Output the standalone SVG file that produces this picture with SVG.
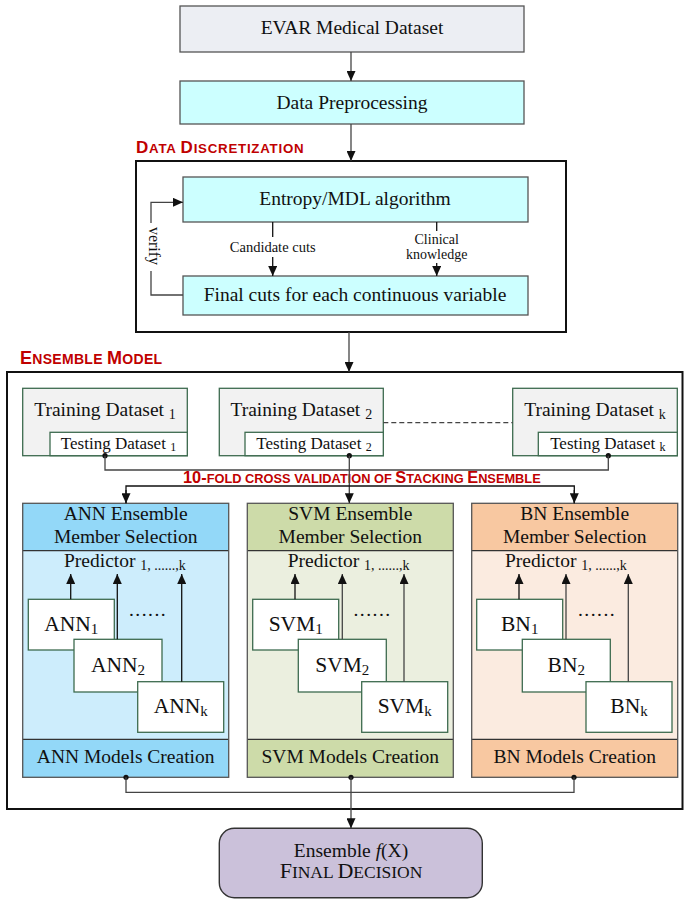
<svg xmlns="http://www.w3.org/2000/svg" width="685" height="899" viewBox="0 0 685 899">
<style>
.t{font-family:"Liberation Serif","Times New Roman",serif;fill:#111;text-anchor:middle}
.ts{font-family:"Liberation Serif","Times New Roman",serif;fill:#111;text-anchor:start;font-size:19.5px}
.m{font-size:19.5px}
.s{font-size:14.5px}
.red{font-family:"Liberation Sans",Arial,sans-serif;font-weight:bold;fill:#c00000}
.conn{stroke:#444;stroke-width:1.3;fill:none}
.blk{stroke:#111;stroke-width:1.3;fill:none}
.cyan{fill:#ccffff;stroke:#555;stroke-width:1.3}
.train{fill:#f2f2f2;stroke:#3d6b4f;stroke-width:1.3}
.test{fill:#ffffff;stroke:#3d6b4f;stroke-width:1.3}
.mb{fill:#ffffff;stroke:#3d6b4f;stroke-width:1.3}
.frame{fill:none;stroke:#111;stroke-width:2}
.col{fill:none;stroke:#555;stroke-width:1.3}
.div{stroke:#333;stroke-width:1.2}
</style>
<defs>
<marker id="ah" markerUnits="userSpaceOnUse" markerWidth="10" markerHeight="9" refX="10" refY="4.5" orient="auto">
<path d="M0,0 L10,4.5 L0,9 z" fill="#111"/>
</marker>
</defs>

<g id="evar">
<rect x="180" y="6" width="344" height="46" fill="#eceef3" stroke="#555" stroke-width="1.3"/>
<text class="t m" x="352" y="34">EVAR Medical Dataset</text>
</g>
<g id="preprocess">
<rect class="cyan" x="180" y="81" width="344" height="43"/>
<text class="t m" x="352" y="108.5">Data Preprocessing</text>
</g>

<g id="discretization">
<text class="red" x="136" y="153" letter-spacing="0.75"><tspan font-size="17">D</tspan><tspan font-size="13.3">ATA </tspan><tspan font-size="17">D</tspan><tspan font-size="13.3">ISCRETIZATION</tspan></text>
<rect class="frame" x="136" y="161" width="430" height="171"/>
</g>
<g id="entropy">
<rect class="cyan" x="183" y="177" width="345" height="45"/>
<text class="t m" x="355" y="205">Entropy/MDL algorithm</text>
</g>
<g id="finalcuts">
<rect class="cyan" x="183" y="276" width="345" height="39"/>
<text class="t m" x="355" y="301">Final cuts for each continuous variable</text>
</g>

<g id="ensemble-model">
<text class="red" x="20" y="364" letter-spacing="0.3"><tspan font-size="18">E</tspan><tspan font-size="14">NSEMBLE </tspan><tspan font-size="18">M</tspan><tspan font-size="14">ODEL</tspan></text>
<rect class="frame" x="7" y="372" width="675.5" height="437"/>
</g>

<g id="train1">
<rect class="train" x="22.7" y="388.3" width="164.6" height="67.4"/>
<text class="t m" x="105" y="416">Training Dataset <tspan font-size="14" dy="2.5">1</tspan></text>
</g>
<g id="test1">
<rect class="test" x="50" y="432.3" width="137.3" height="23.4"/>
<text class="t" font-size="17" x="118.5" y="449">Testing Dataset <tspan font-size="12" dy="1.5">1</tspan></text>
</g>
<g id="train2">
<rect class="train" x="219.3" y="388.3" width="164" height="67.4"/>
<text class="t m" x="301.3" y="416">Training Dataset <tspan font-size="14" dy="2.5">2</tspan></text>
</g>
<g id="test2">
<rect class="test" x="245" y="432.3" width="138.3" height="23.4"/>
<text class="t" font-size="17" x="314" y="449">Testing Dataset <tspan font-size="12" dy="1.5">2</tspan></text>
</g>
<g id="traink">
<rect class="train" x="512.7" y="388.3" width="164.6" height="67.4"/>
<text class="t m" x="595" y="416">Training Dataset <tspan font-size="14" dy="2.5">k</tspan></text>
</g>
<g id="testk">
<rect class="test" x="538.3" y="432.3" width="139" height="23.4"/>
<text class="t" font-size="17" x="607.8" y="449">Testing Dataset <tspan font-size="12" dy="1.5">k</tspan></text>
</g>

<text class="red" x="183" y="483.3"><tspan font-size="16.4">10-</tspan><tspan font-size="12.8">FOLD CROSS VALIDATION OF </tspan><tspan font-size="16.4">S</tspan><tspan font-size="12.8">TACKING </tspan><tspan font-size="16.4">E</tspan><tspan font-size="12.8">NSEMBLE</tspan></text>

<!-- ANN column -->
<g id="ann">
<rect x="22.7" y="503.3" width="206" height="47.4" fill="#93d8f8"/>
<rect x="22.7" y="550.7" width="206" height="188.6" fill="#cdedfc"/>
<rect x="22.7" y="739.3" width="206" height="38" fill="#93d8f8"/>
<line class="div" x1="22.7" y1="550.7" x2="228.7" y2="550.7"/>
<line class="div" x1="22.7" y1="739.3" x2="228.7" y2="739.3"/>
<rect class="col" x="22.7" y="503.3" width="206" height="274"/>
<text class="t m" x="125.7" y="520">ANN Ensemble</text>
<text class="t m" x="125.7" y="543.3">Member Selection</text>
<text class="ts" x="64" y="567.3">Predictor <tspan font-size="14" dy="3">1, ......,k</tspan></text>
<text class="t m" x="148" y="616" letter-spacing="1.5">......</text>
<text class="t m" x="125.7" y="763.3">ANN Models Creation</text>
</g>
<g id="ann1"><rect class="mb" x="28.3" y="599.3" width="86" height="50.7"/><text class="t" font-size="21.5" x="71.3" y="631">ANN<tspan font-size="15" dy="3">1</tspan></text></g>
<g id="ann2"><rect class="mb" x="74" y="639.3" width="88" height="52.7"/><text class="t" font-size="21.5" x="118" y="671.7">ANN<tspan font-size="15" dy="3">2</tspan></text></g>
<g id="annk"><rect class="mb" x="137.7" y="681.7" width="86" height="50.6"/><text class="t" font-size="21.5" x="180.7" y="713.3">ANN<tspan font-size="15" dy="3">k</tspan></text></g>

<!-- SVM column -->
<g id="svm">
<rect x="247.3" y="503.3" width="206" height="47.4" fill="#cddba9"/>
<rect x="247.3" y="550.7" width="206" height="188.6" fill="#ebefdf"/>
<rect x="247.3" y="739.3" width="206" height="38" fill="#cddba9"/>
<line class="div" x1="247.3" y1="550.7" x2="453.3" y2="550.7"/>
<line class="div" x1="247.3" y1="739.3" x2="453.3" y2="739.3"/>
<rect class="col" x="247.3" y="503.3" width="206" height="274"/>
<text class="t m" x="350.3" y="520">SVM Ensemble</text>
<text class="t m" x="350.3" y="543.3">Member Selection</text>
<text class="ts" x="287.7" y="567.3">Predictor <tspan font-size="14" dy="3">1, ......,k</tspan></text>
<text class="t m" x="372.6" y="616" letter-spacing="1.5">......</text>
<text class="t m" x="350.3" y="763.3">SVM Models Creation</text>
</g>
<g id="svm1"><rect class="mb" x="252.7" y="599.3" width="86" height="50.7"/><text class="t" font-size="21.5" x="295.7" y="631">SVM<tspan font-size="15" dy="3">1</tspan></text></g>
<g id="svm2"><rect class="mb" x="298.3" y="639.3" width="88" height="52.7"/><text class="t" font-size="21.5" x="342.3" y="671.7">SVM<tspan font-size="15" dy="3">2</tspan></text></g>
<g id="svmk"><rect class="mb" x="361.7" y="681.7" width="86" height="50.6"/><text class="t" font-size="21.5" x="404.7" y="713.3">SVM<tspan font-size="15" dy="3">k</tspan></text></g>

<!-- BN column -->
<g id="bn">
<rect x="471.7" y="503.3" width="206" height="47.4" fill="#f8c8a1"/>
<rect x="471.7" y="550.7" width="206" height="188.6" fill="#fbebe0"/>
<rect x="471.7" y="739.3" width="206" height="38" fill="#f8c8a1"/>
<line class="div" x1="471.7" y1="550.7" x2="677.7" y2="550.7"/>
<line class="div" x1="471.7" y1="739.3" x2="677.7" y2="739.3"/>
<rect class="col" x="471.7" y="503.3" width="206" height="274"/>
<text class="t m" x="574.7" y="520">BN Ensemble</text>
<text class="t m" x="574.7" y="543.3">Member Selection</text>
<text class="ts" x="505" y="567.3">Predictor <tspan font-size="14" dy="3">1, ......,k</tspan></text>
<text class="t m" x="597" y="616" letter-spacing="1.5">......</text>
<text class="t m" x="574.7" y="763.3">BN Models Creation</text>
</g>
<g id="bn1"><rect class="mb" x="476.7" y="599.3" width="86" height="50.7"/><text class="t" font-size="21.5" x="519.7" y="631">BN<tspan font-size="15" dy="3">1</tspan></text></g>
<g id="bn2"><rect class="mb" x="522.3" y="639.3" width="88" height="52.7"/><text class="t" font-size="21.5" x="566.3" y="671.7">BN<tspan font-size="15" dy="3">2</tspan></text></g>
<g id="bnk"><rect class="mb" x="586" y="681.7" width="86" height="50.6"/><text class="t" font-size="21.5" x="629" y="713.3">BN<tspan font-size="15" dy="3">k</tspan></text></g>

<g id="final">
<rect x="219.3" y="828.3" width="263" height="69.4" rx="15" fill="#cbc1da" stroke="#333" stroke-width="1.4"/>
<text class="t m" x="351" y="856.7">Ensemble <tspan font-style="italic">f</tspan>(X)</text>
<text class="t" x="351" y="878.3"><tspan font-size="22">F</tspan><tspan font-size="17.5">INAL </tspan><tspan font-size="22">D</tspan><tspan font-size="17.5">ECISION</tspan></text>
</g>

<g id="connectors">
<path class="conn" d="M351,52 V81" marker-end="url(#ah)"/>
<path class="conn" d="M351,124 V161" marker-end="url(#ah)"/>
<path class="blk" d="M272.7,222 V237"/>
<text class="t s" x="272.7" y="252">Candidate cuts</text>
<path class="blk" d="M272.7,257 V276" marker-end="url(#ah)"/>
<path class="blk" d="M436.7,222 V231"/>
<text class="t" font-size="14" x="436.7" y="243.5">Clinical</text>
<text class="t" font-size="14" x="436.7" y="258.5">knowledge</text>
<path class="blk" d="M436.7,263 V276" marker-end="url(#ah)"/>
<path class="conn" d="M183,295 H151 V271"/>
<path class="conn" d="M151,223 V202.3 H183" marker-end="url(#ah)"/>
<text class="t" font-size="16" transform="translate(148.5,246) rotate(90)">verify</text>
<path class="conn" d="M349,332 V372" marker-end="url(#ah)"/>
<path class="conn" d="M383.3,422.7 H512.7" stroke-dasharray="5,3"/>
<circle cx="105" cy="455.7" r="2.6" fill="#111"/>
<circle cx="349.3" cy="455.7" r="2.6" fill="#111"/>
<circle cx="608.3" cy="455.7" r="2.6" fill="#111"/>
<path class="conn" d="M105,455.7 V470 H608.3 V455.7"/>
<path class="conn" d="M349.3,455.7 V503.3" marker-end="url(#ah)"/>
<path class="blk" d="M126,503.3 V486 H574.3 V503.3"/>
<path class="blk" d="M126,490 V503.3" marker-end="url(#ah)"/>
<path class="blk" d="M574.3,490 V503.3" marker-end="url(#ah)"/>
<path class="blk" d="M70.7,599.3 V574" marker-end="url(#ah)"/>
<path class="blk" d="M117.3,639.3 V574" marker-end="url(#ah)"/>
<path class="blk" d="M181.7,681.7 V574" marker-end="url(#ah)"/>
<path class="blk" d="M295,599.3 V574" marker-end="url(#ah)"/>
<path class="conn" d="M342.3,639.3 V574" marker-end="url(#ah)"/>
<path class="conn" d="M404,681.7 V574" marker-end="url(#ah)"/>
<path class="blk" d="M519,599.3 V574" marker-end="url(#ah)"/>
<path class="conn" d="M566,639.3 V574" marker-end="url(#ah)"/>
<path class="conn" d="M628.3,681.7 V574" marker-end="url(#ah)"/>
<circle cx="126" cy="777.3" r="2.6" fill="#111"/>
<circle cx="351" cy="777.3" r="2.6" fill="#111"/>
<circle cx="574" cy="777.3" r="2.6" fill="#111"/>
<path class="conn" d="M126,777.3 V792.3 H574 V777.3"/>
<path class="conn" d="M351,777.3 V828.3" marker-end="url(#ah)"/>
</g>
</svg>
